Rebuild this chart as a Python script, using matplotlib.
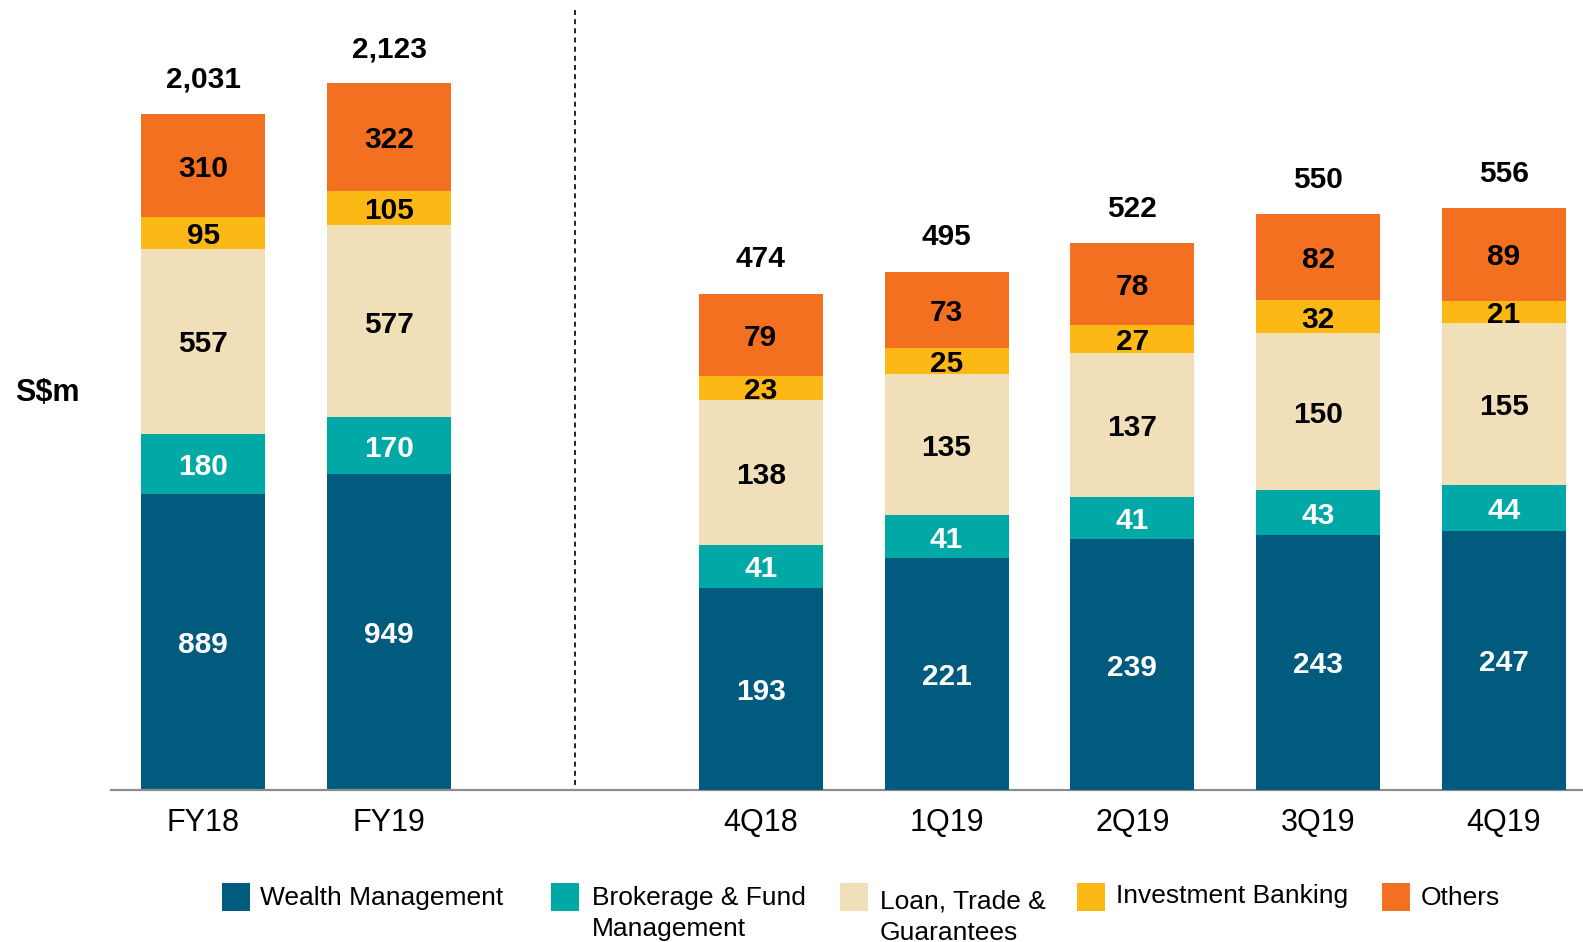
import matplotlib
matplotlib.use("Agg")
import matplotlib.pyplot as plt
from matplotlib.patches import Rectangle

plt.rcParams['font.family'] = ['Liberation Sans', 'DejaVu Sans']

# ---- data ----
periods = ['FY18', 'FY19', '4Q18', '1Q19', '2Q19', '3Q19', '4Q19']
series_names = ['Wealth Management', 'Brokerage & Fund\nManagement', 'Loan, Trade &\nGuarantees',
                'Investment Banking', 'Others']
wealth_mgmt = [889, 949, 193, 221, 239, 243, 247]
brokerage_fund = [180, 170, 41, 41, 41, 43, 44]
loan_trade = [557, 577, 138, 135, 137, 150, 155]
invest_banking = [95, 105, 23, 25, 27, 32, 21]
others = [310, 322, 79, 73, 78, 82, 89]
totals = [2031, 2123, 474, 495, 522, 550, 556]

colors = ['#015B7E', '#00A9A5', '#F0DFB8', '#FCB814', '#F37021']
text_colors = ['white', 'white', 'black', 'black', 'black']
series = [wealth_mgmt, brokerage_fund, loan_trade, invest_banking, others]

W, H = 1583, 942
fig = plt.figure(figsize=(W / 100, H / 100), dpi=100)
ax = fig.add_axes([111 / W, 1 - 789.5 / H, 1 - 111 / W, (789.5 - 10) / H])
ax2 = ax.twinx()

n_fy = 2
xpos = [i if i < n_fy else i + 1 for i in range(len(periods))]
bar_w = 0.668

ax.set_ylim(0, 2344)
ax2.set_ylim(0, 745)
ax.set_xlim(-0.497, 7.425)

for i, p in enumerate(periods):
    target = ax if i < n_fy else ax2
    bottom = 0
    for s, vals in enumerate(series):
        v = vals[i]
        target.bar(xpos[i], v, bottom=bottom, width=bar_w, color=colors[s], linewidth=0)
        target.annotate(f"{v:,}", (xpos[i], bottom + v / 2), xytext=(0, -8), textcoords='offset points',
                        ha='center', va='baseline', fontsize=21.5, fontweight='bold', color=text_colors[s])
        bottom += v
    target.annotate(f"{totals[i]:,}", (xpos[i], bottom), xytext=(0, 18.8), textcoords='offset points',
                    ha='center', va='baseline', fontsize=21.5, fontweight='bold', color='black')

# dashed separator
ax.axvline(n_fy, ymin=0.006, ymax=1, color='black', linestyle=(0, (3, 2.5)), linewidth=1.2)

for a in (ax, ax2):
    for sp in ('top', 'right', 'left'):
        a.spines[sp].set_visible(False)
    a.set_yticks([])
ax2.spines['bottom'].set_visible(False)
ax.spines['bottom'].set_color('#8c8c8c')
ax.spines['bottom'].set_linewidth(1.6)
ax.set_xticks(xpos)
ax.set_xticklabels(periods, fontsize=22)
ax.tick_params(axis='x', length=0, pad=13)

fig.text(15 / W, 1 - 393 / H, 'S$m', fontsize=22, fontweight='bold', ha='left', va='center')

# legend
sq_x = [222, 551, 840, 1077, 1382]
txt_x = [260, 592, 880, 1116, 1421]
sq_top, sq_size = 883, 28
txt_top = [886, 886, 890, 884, 886]
for s in range(len(series_names)):
    fig.patches.append(Rectangle((sq_x[s] / W, 1 - (sq_top + sq_size) / H), sq_size / W, sq_size / H,
                                 transform=fig.transFigure, facecolor=colors[s], edgecolor='none'))
    fig.text(txt_x[s] / W, 1 - txt_top[s] / H, series_names[s], fontsize=19, ha='left', va='top',
             linespacing=1.36)

fig.savefig('out.png', dpi=100)
